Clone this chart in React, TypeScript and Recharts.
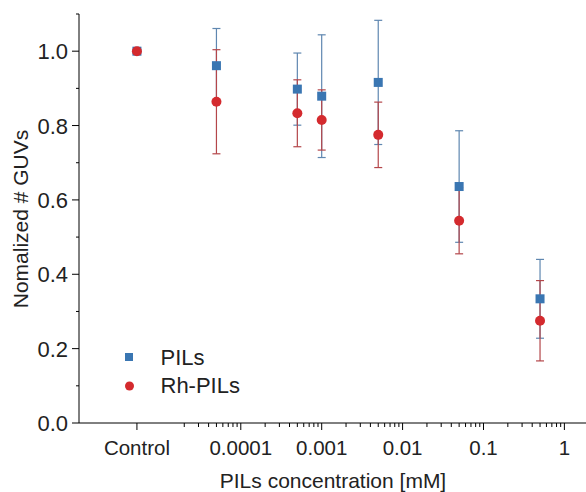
import { ScatterChart, Scatter, XAxis, YAxis, ErrorBar, Legend } from "recharts";

// x position used for the "Control" samples on the log axis
const CONTROL_X = 5.2e-6;

const concentrations = [CONTROL_X, 5e-5, 5e-4, 1e-3, 5e-3, 5e-2, 5e-1];

const pilsMean = [1.0, 0.961, 0.898, 0.879, 0.916, 0.636, 0.334];
const pilsErr = [0, 0.1, 0.097, 0.165, 0.167, 0.15, 0.106];

const rhMean = [1.0, 0.864, 0.833, 0.815, 0.775, 0.544, 0.275];
const rhErr = [0, 0.14, 0.09, 0.081, 0.088, 0.089, 0.108];

const xMajorTicks = [CONTROL_X, 1e-4, 1e-3, 1e-2, 1e-1, 1];
const xMajorLabels = ["Control", "0.0001", "0.001", "0.01", "0.1", "1"];
const xMinorDecades = [1e-5, 1e-4, 1e-3, 1e-2, 1e-1];
const xMinorSteps = [2, 3, 4, 5, 6, 7, 8, 9];

const yTicks = [0, 0.1, 0.2, 0.3, 0.4, 0.5, 0.6, 0.7, 0.8, 0.9, 1.0, 1.1];
const yLabels = ["0.0", "", "0.2", "", "0.4", "", "0.6", "", "0.8", "", "1.0", ""];

const BLUE = "#3a76b2";
const BLUE_BAR = "#5f87b0";
const RED = "#d42a2e";
const RED_BAR = "#b4464a";
const TEXT = "#222";
const FONT = "'Liberation Sans', Arial, sans-serif";

const pilsData = concentrations.map((x, i) => ({ x, y: pilsMean[i], err: pilsErr[i] }));
const rhData = concentrations.map((x, i) => ({ x, y: rhMean[i], err: rhErr[i] }));

const xTicks = [
  ...xMajorTicks,
  ...xMinorDecades.flatMap((d) => xMinorSteps.map((s) => s * d)),
].sort((a, b) => a - b);

const XTick = (props: any) => {
  const { x, y, payload } = props;
  const idx = xMajorTicks.findIndex((t) => Math.abs(t - payload.value) / t < 1e-6);
  const major = idx >= 0;
  return (
    <g>
      <line x1={x} x2={x} y1={y} y2={y + (major ? 7 : 4)} stroke="#000" strokeWidth={1} />
      {major && (
        <text x={x} y={y + 32} textAnchor="middle" fontSize={20.5} fill={TEXT} fontFamily={FONT}>
          {xMajorLabels[idx]}
        </text>
      )}
    </g>
  );
};

const YTick = (props: any) => {
  const { x, y, payload } = props;
  const idx = yTicks.findIndex((t) => Math.abs(t - payload.value) < 1e-6);
  const label = yLabels[idx] || "";
  const major = label !== "";
  return (
    <g>
      <line x1={x - (major ? 7 : 3)} x2={x} y1={y} y2={y} stroke="#000" strokeWidth={1} />
      {major && (
        <text x={x - 11} y={y + 8} textAnchor="end" fontSize={22} fill={TEXT} fontFamily={FONT}>
          {label}
        </text>
      )}
    </g>
  );
};

const Square = (props: any) => {
  const { cx, cy } = props;
  return <rect x={cx - 4.5} y={cy - 4.5} width={9} height={9} fill={BLUE} />;
};

const Dot = (props: any) => {
  const { cx, cy } = props;
  return <circle cx={cx} cy={cy} r={5} fill={RED} />;
};

const renderLegend = () => (
  <svg width={150} height={60} style={{ fontFamily: FONT, display: "block" }}>
    <rect x={5} y={12} width={8} height={8} fill={BLUE} />
    <text x={40.5} y={24} fontSize={22} fill={TEXT}>PILs</text>
    <circle cx={9.5} cy={45} r={4.5} fill={RED} />
    <text x={40.5} y={52} fontSize={22} fill={TEXT}>Rh-PILs</text>
  </svg>
);

const renderXTitle = () => (
  <text x={333} y={488} textAnchor="middle" fontSize={21} fill={TEXT} fontFamily={FONT}>
    PILs concentration [mM]
  </text>
);

const renderYTitle = () => (
  <text
    x={20}
    y={219}
    transform="rotate(-90 20 219)"
    textAnchor="middle"
    dominantBaseline="central"
    fontSize={21}
    fill={TEXT}
    fontFamily={FONT}
  >
    Nomalized # GUVs
  </text>
);

export default function App() {
  return (
    <div style={{ position: "absolute", left: 0, top: 0, background: "#fff" }}>
      <ScatterChart width={586} height={492} margin={{ top: 14, right: 0, bottom: 0, left: 0 }}>
        <XAxis
          type="number"
          dataKey="x"
          scale="log"
          domain={[1e-6, 1.85]}
          allowDataOverflow
          ticks={xTicks}
          interval={0}
          tickSize={0}
          tickMargin={0}
          tickLine={false}
          tick={<XTick />}
          axisLine={{ stroke: "#000", strokeWidth: 1 }}
          height={69}
          label={{ content: renderXTitle }}
        />
        <YAxis
          type="number"
          dataKey="y"
          domain={[0, 1.1]}
          allowDataOverflow
          ticks={yTicks}
          interval={0}
          tickSize={0}
          tickMargin={0}
          tickLine={false}
          tick={<YTick />}
          axisLine={{ stroke: "#000", strokeWidth: 1 }}
          width={79}
          label={{ content: renderYTitle }}
        />
        <Legend
          layout="vertical"
          align="center"
          verticalAlign="middle"
          wrapperStyle={{ left: 120, top: 341, width: 150, height: 60 }}
          content={renderLegend}
        />
        <Scatter name="PILs" data={pilsData} shape={<Square />} isAnimationActive={false}>
          <ErrorBar dataKey="err" direction="y" width={4} stroke={BLUE_BAR} strokeWidth={1.2} />
        </Scatter>
        <Scatter name="Rh-PILs" data={rhData} shape={<Dot />} isAnimationActive={false}>
          <ErrorBar dataKey="err" direction="y" width={4} stroke={RED_BAR} strokeWidth={1.2} />
        </Scatter>
      </ScatterChart>
    </div>
  );
}
